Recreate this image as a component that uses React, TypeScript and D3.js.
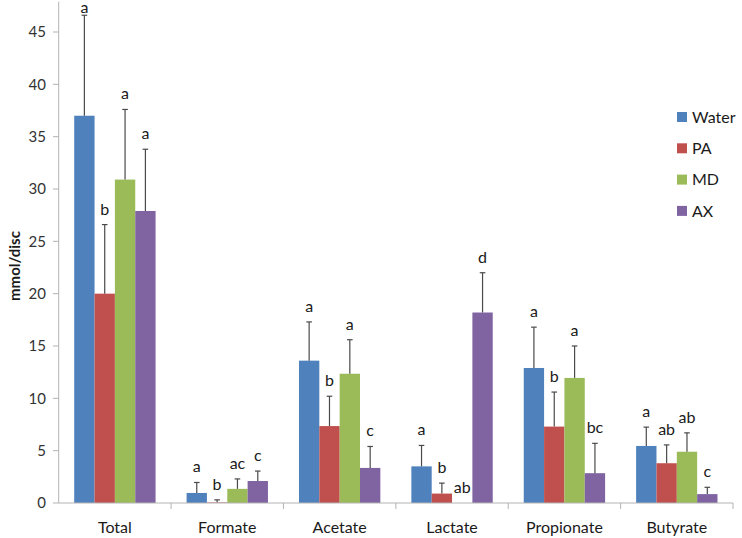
import React from "react";
import * as d3 from "d3";

const categories = ["Total", "Formate", "Acetate", "Lactate", "Propionate", "Butyrate"];
const series = ["Water", "PA", "MD", "AX"];
const colors = ["#4F81BD", "#C0504D", "#9BBB59", "#8064A2"];

const waterValues = [37.0, 0.96, 13.6, 3.5, 12.9, 5.45];
const paValues = [20.0, 0.05, 7.35, 0.9, 7.3, 3.8];
const mdValues = [30.9, 1.35, 12.35, 0, 11.95, 4.9];
const axValues = [27.9, 2.1, 3.35, 18.2, 2.85, 0.85];

const waterErr = [9.6, 1.0, 3.7, 2.0, 3.9, 1.8];
const paErr = [6.6, 0.25, 2.85, 1.0, 3.3, 1.75];
const mdErr = [6.7, 0.95, 3.25, 0, 3.05, 1.8];
const axErr = [5.9, 0.95, 2.05, 3.8, 2.85, 0.65];

const waterLetters = ["a", "a", "a", "a", "a", "a"];
const paLetters = ["b", "b", "b", "b", "b", "ab"];
const mdLetters = ["a", "ac", "a", "ab", "a", "ab"];
const axLetters = ["a", "c", "c", "d", "bc", "c"];

const yTicks = [0, 5, 10, 15, 20, 25, 30, 35, 40, 45];

const valuesBySeries = [waterValues, paValues, mdValues, axValues];
const errBySeries = [waterErr, paErr, mdErr, axErr];
const lettersBySeries = [waterLetters, paLetters, mdLetters, axLetters];

const W = 742;
const H = 538;
const FONT = "Lato, 'Open Sans', sans-serif";

export default function App() {
  const x0 = d3.scaleBand<string>().domain(categories).range([58.7, 733]).padding(0);
  const bw = x0.bandwidth();
  const pad = bw * 0.138;
  const x1 = d3.scaleBand<string>().domain(series).range([pad, bw - pad]).padding(0);
  const y = d3.scaleLinear().domain([0, 45]).range([503, 32]);

  const axisColor = "#b3b3b3";
  const errColor = "#4a4a4a";

  return (
    <svg
      width={W}
      height={H}
      style={{ position: "absolute", left: 0, top: 0, background: "#fff" }}
      fontFamily={FONT}
    >
      {series.map((s, si) =>
        categories.map((c, ci) => {
          const v = valuesBySeries[si][ci];
          const bx = (x0(c) ?? 0) + (x1(s) ?? 0);
          return (
            <rect
              key={`b-${s}-${c}`}
              x={bx}
              y={y(v)}
              width={x1.bandwidth()}
              height={y(0) - y(v)}
              fill={colors[si]}
            />
          );
        })
      )}
      {series.map((s, si) =>
        categories.map((c, ci) => {
          const v = valuesBySeries[si][ci];
          const e = errBySeries[si][ci];
          if (e <= 0) return null;
          const cx = (x0(c) ?? 0) + (x1(s) ?? 0) + x1.bandwidth() / 2;
          return (
            <g key={`e-${s}-${c}`} stroke={errColor} strokeWidth={1.2}>
              <line x1={cx} x2={cx} y1={y(v)} y2={y(v + e)} />
              <line x1={cx - 2.8} x2={cx + 2.8} y1={y(v + e)} y2={y(v + e)} />
            </g>
          );
        })
      )}
      {series.map((s, si) =>
        categories.map((c, ci) => {
          const v = valuesBySeries[si][ci];
          const e = errBySeries[si][ci];
          const cx = (x0(c) ?? 0) + (x1(s) ?? 0) + x1.bandwidth() / 2;
          const top = y(v + e);
          const ty = Math.max(top - 10, 13);
          return (
            <text
              key={`l-${s}-${c}`}
              x={cx}
              y={ty}
              textAnchor="middle"
              fontSize={16}
              fill="#1a1a1a"
            >
              {lettersBySeries[si][ci]}
            </text>
          );
        })
      )}
      <line x1={58.7} x2={58.7} y1={y(47.9)} y2={y(0)} stroke={axisColor} strokeWidth={1} />
      {yTicks.map((t) => (
        <g key={`yt-${t}`}>
          <line x1={53} x2={58.7} y1={y(t)} y2={y(t)} stroke={axisColor} />
          <text x={46} y={y(t)} dy="0.35em" textAnchor="end" fontSize={15} fill="#333">
            {t}
          </text>
        </g>
      ))}
      <line x1={58.7} x2={733} y1={y(0)} y2={y(0)} stroke={axisColor} strokeWidth={1} />
      {categories.map((c) => (
        <line
          key={`xt-${c}`}
          x1={(x0(c) ?? 0) + bw}
          x2={(x0(c) ?? 0) + bw}
          y1={y(0)}
          y2={y(0) + 6}
          stroke={axisColor}
        />
      ))}
      {categories.map((c) => (
        <text
          key={`xl-${c}`}
          x={(x0(c) ?? 0) + bw / 2}
          y={527}
          dy="0.35em"
          textAnchor="middle"
          fontSize={16}
          fill="#1a1a1a"
        >
          {c}
        </text>
      ))}
      <text
        transform={`translate(15,266) rotate(-90)`}
        textAnchor="middle"
        dy="0.35em"
        fontSize={15}
        fontWeight="bold"
        fill="#1a1a1a"
      >
        mmol/disc
      </text>
      {series.map((s, i) => (
        <g key={`lg-${s}`} transform={`translate(677,${117 + i * 31.3})`}>
          <rect x={0} y={-5} width={10} height={10} fill={colors[i]} />
          <text x={15} y={0} dy="0.35em" fontSize={16} fill="#1a1a1a">
            {s}
          </text>
        </g>
      ))}
    </svg>
  );
}
